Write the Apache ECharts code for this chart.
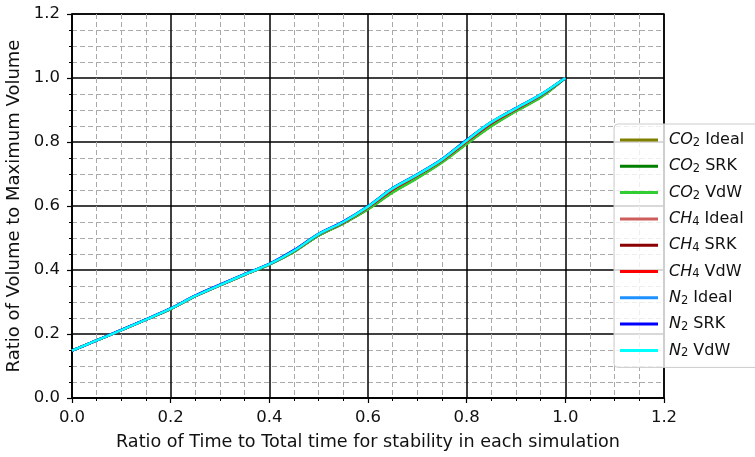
<!DOCTYPE html>
<html><head><meta charset="utf-8">
<script src="https://cdn.jsdelivr.net/npm/echarts@6/dist/echarts.min.js"></script>
<style>html,body{margin:0;padding:0;background:#fff}#c{width:755px;height:457px}</style>
</head><body><div id="c"></div>
<script>
const xs = [0,0.05,0.1,0.15,0.2,0.25,0.3,0.35,0.4,0.45,0.5,0.55,0.6,0.65,0.7,0.75,0.8,0.85,0.9,0.95,1.0];
const co2Ideal = [0.148,0.180,0.212,0.245,0.278,0.318,0.352,0.385,0.417,0.457,0.508,0.546,0.590,0.643,0.688,0.737,0.795,0.850,0.897,0.940,1.0];
const co2SRK   = [0.148,0.180,0.212,0.245,0.278,0.318,0.352,0.385,0.417,0.457,0.508,0.546,0.591,0.644,0.689,0.738,0.796,0.851,0.898,0.941,1.0];
const co2VdW   = [0.148,0.180,0.212,0.245,0.278,0.318,0.352,0.385,0.417,0.457,0.508,0.546,0.590,0.642,0.687,0.736,0.794,0.849,0.896,0.939,1.0];
const ch4Ideal = [0.148,0.180,0.212,0.245,0.279,0.319,0.353,0.386,0.418,0.460,0.511,0.549,0.596,0.652,0.696,0.743,0.802,0.859,0.903,0.946,1.0];
const ch4SRK   = [0.148,0.180,0.212,0.245,0.279,0.319,0.353,0.386,0.418,0.460,0.511,0.549,0.596,0.652,0.696,0.743,0.802,0.859,0.903,0.946,1.0];
const ch4VdW   = [0.148,0.180,0.212,0.245,0.279,0.319,0.353,0.386,0.418,0.460,0.511,0.549,0.596,0.652,0.696,0.743,0.802,0.859,0.903,0.946,1.0];
const n2Ideal  = [0.148,0.180,0.213,0.246,0.280,0.320,0.354,0.387,0.419,0.462,0.513,0.551,0.599,0.656,0.699,0.746,0.806,0.862,0.906,0.948,1.0];
const n2SRK    = [0.148,0.180,0.213,0.246,0.280,0.320,0.354,0.387,0.419,0.462,0.513,0.551,0.599,0.656,0.699,0.746,0.806,0.862,0.906,0.948,1.0];
const n2VdW    = [0.148,0.180,0.212,0.245,0.279,0.319,0.353,0.386,0.418,0.460,0.512,0.550,0.598,0.655,0.698,0.745,0.805,0.862,0.905,0.948,1.0];

const seriesNames = ['CO2 Ideal','CO2 SRK','CO2 VdW','CH4 Ideal','CH4 SRK','CH4 VdW','N2 Ideal','N2 SRK','N2 VdW'];
const seriesData = [co2Ideal,co2SRK,co2VdW,ch4Ideal,ch4SRK,ch4VdW,n2Ideal,n2SRK,n2VdW];
const colors = ['#808000','#008000','#32cd32','#cd5c5c','#8b0000','#ff0000','#1e90ff','#0000ff','#00ffff'];
const xTicks = ['0.0','0.2','0.4','0.6','0.8','1.0','1.2'];

const F = 'DejaVu Sans';
const TC = '#111';
const chart = echarts.init(document.getElementById('c'), null, {renderer:'canvas'});
const series = seriesNames.map((n,i)=>({
  name:n, type:'line', showSymbol:false, symbol:'none', smooth:0.3,
  lineStyle:{color:colors[i], width:2.5}, itemStyle:{color:colors[i]},
  data: xs.map((x,j)=>[x, seriesData[i][j]]), z:2+i, animation:false
}));
chart.setOption({
  animation:false,
  textStyle:{fontFamily:F},
  grid:{left:72,right:91,top:14,bottom:59,containLabel:false,outerBoundsMode:'none',show:true,borderColor:'#000',borderWidth:1.5,backgroundColor:'transparent'},
  xAxis:{type:'value',min:0,max:1.2,interval:0.2,
    name:'Ratio of Time to Total time for stability in each simulation',nameLocation:'middle',nameGap:35,
    nameTextStyle:{fontFamily:F,fontSize:17.6,color:TC},
    axisLine:{show:true,lineStyle:{color:'#000',width:1.5}},
    axisTick:{show:true,inside:false,length:5,lineStyle:{color:'#000',width:1.2}},
    minorTick:{show:true,splitNumber:4,length:3,lineStyle:{color:'#000',width:1}},
    axisLabel:{fontFamily:F,fontSize:16.5,color:TC,margin:11,formatter:v=>xTicks[Math.round(v/0.2)]},
    splitLine:{show:true,lineStyle:{color:'#000',width:1.5}},
    minorSplitLine:{show:true,lineStyle:{color:'#aaa',width:1,type:[5,3]}}},
  yAxis:{type:'value',min:0,max:1.2,interval:0.2,
    name:'Ratio of Volume to Maximum Volume',nameLocation:'middle',nameGap:45,
    nameTextStyle:{fontFamily:F,fontSize:18,color:TC},
    axisLine:{show:true,lineStyle:{color:'#000',width:1.5}},
    axisTick:{show:true,inside:false,length:5,lineStyle:{color:'#000',width:1.2}},
    minorTick:{show:true,splitNumber:4,length:3,lineStyle:{color:'#000',width:1}},
    axisLabel:{fontFamily:F,fontSize:16.5,color:TC,margin:12,formatter:v=>v.toFixed(1)},
    splitLine:{show:true,lineStyle:{color:'#000',width:1.5}},
    minorSplitLine:{show:true,lineStyle:{color:'#aaa',width:1,type:[5,3]}}},
  legend:{orient:'vertical',left:614,top:124,itemWidth:38,itemHeight:3,itemGap:7.3,icon:'rect',
    backgroundColor:'rgba(255,255,255,0.8)',borderColor:'#ccc',borderWidth:1,borderRadius:4,padding:[6,30,8,6],
    data:seriesNames,
    formatter:function(n){const p=n.split(' ');const m=p[0].match(/^([A-Z]+)(\d)$/);return '{i|'+m[1]+'}{s|'+m[2]+'}{t| '+p[1]+'}';},
    textStyle:{fontFamily:F,fontSize:16,color:TC,lineHeight:18,
      rich:{i:{fontFamily:F,fontStyle:'italic',fontSize:16,color:TC,lineHeight:18,padding:[0,0,0,6]},
            s:{fontFamily:F,fontSize:11.5,color:TC,lineHeight:18,verticalAlign:'bottom',padding:[7,0,0,0]},
            t:{fontFamily:F,fontSize:16,color:TC,lineHeight:18}}}},
  series:series
});
</script></body></html>
